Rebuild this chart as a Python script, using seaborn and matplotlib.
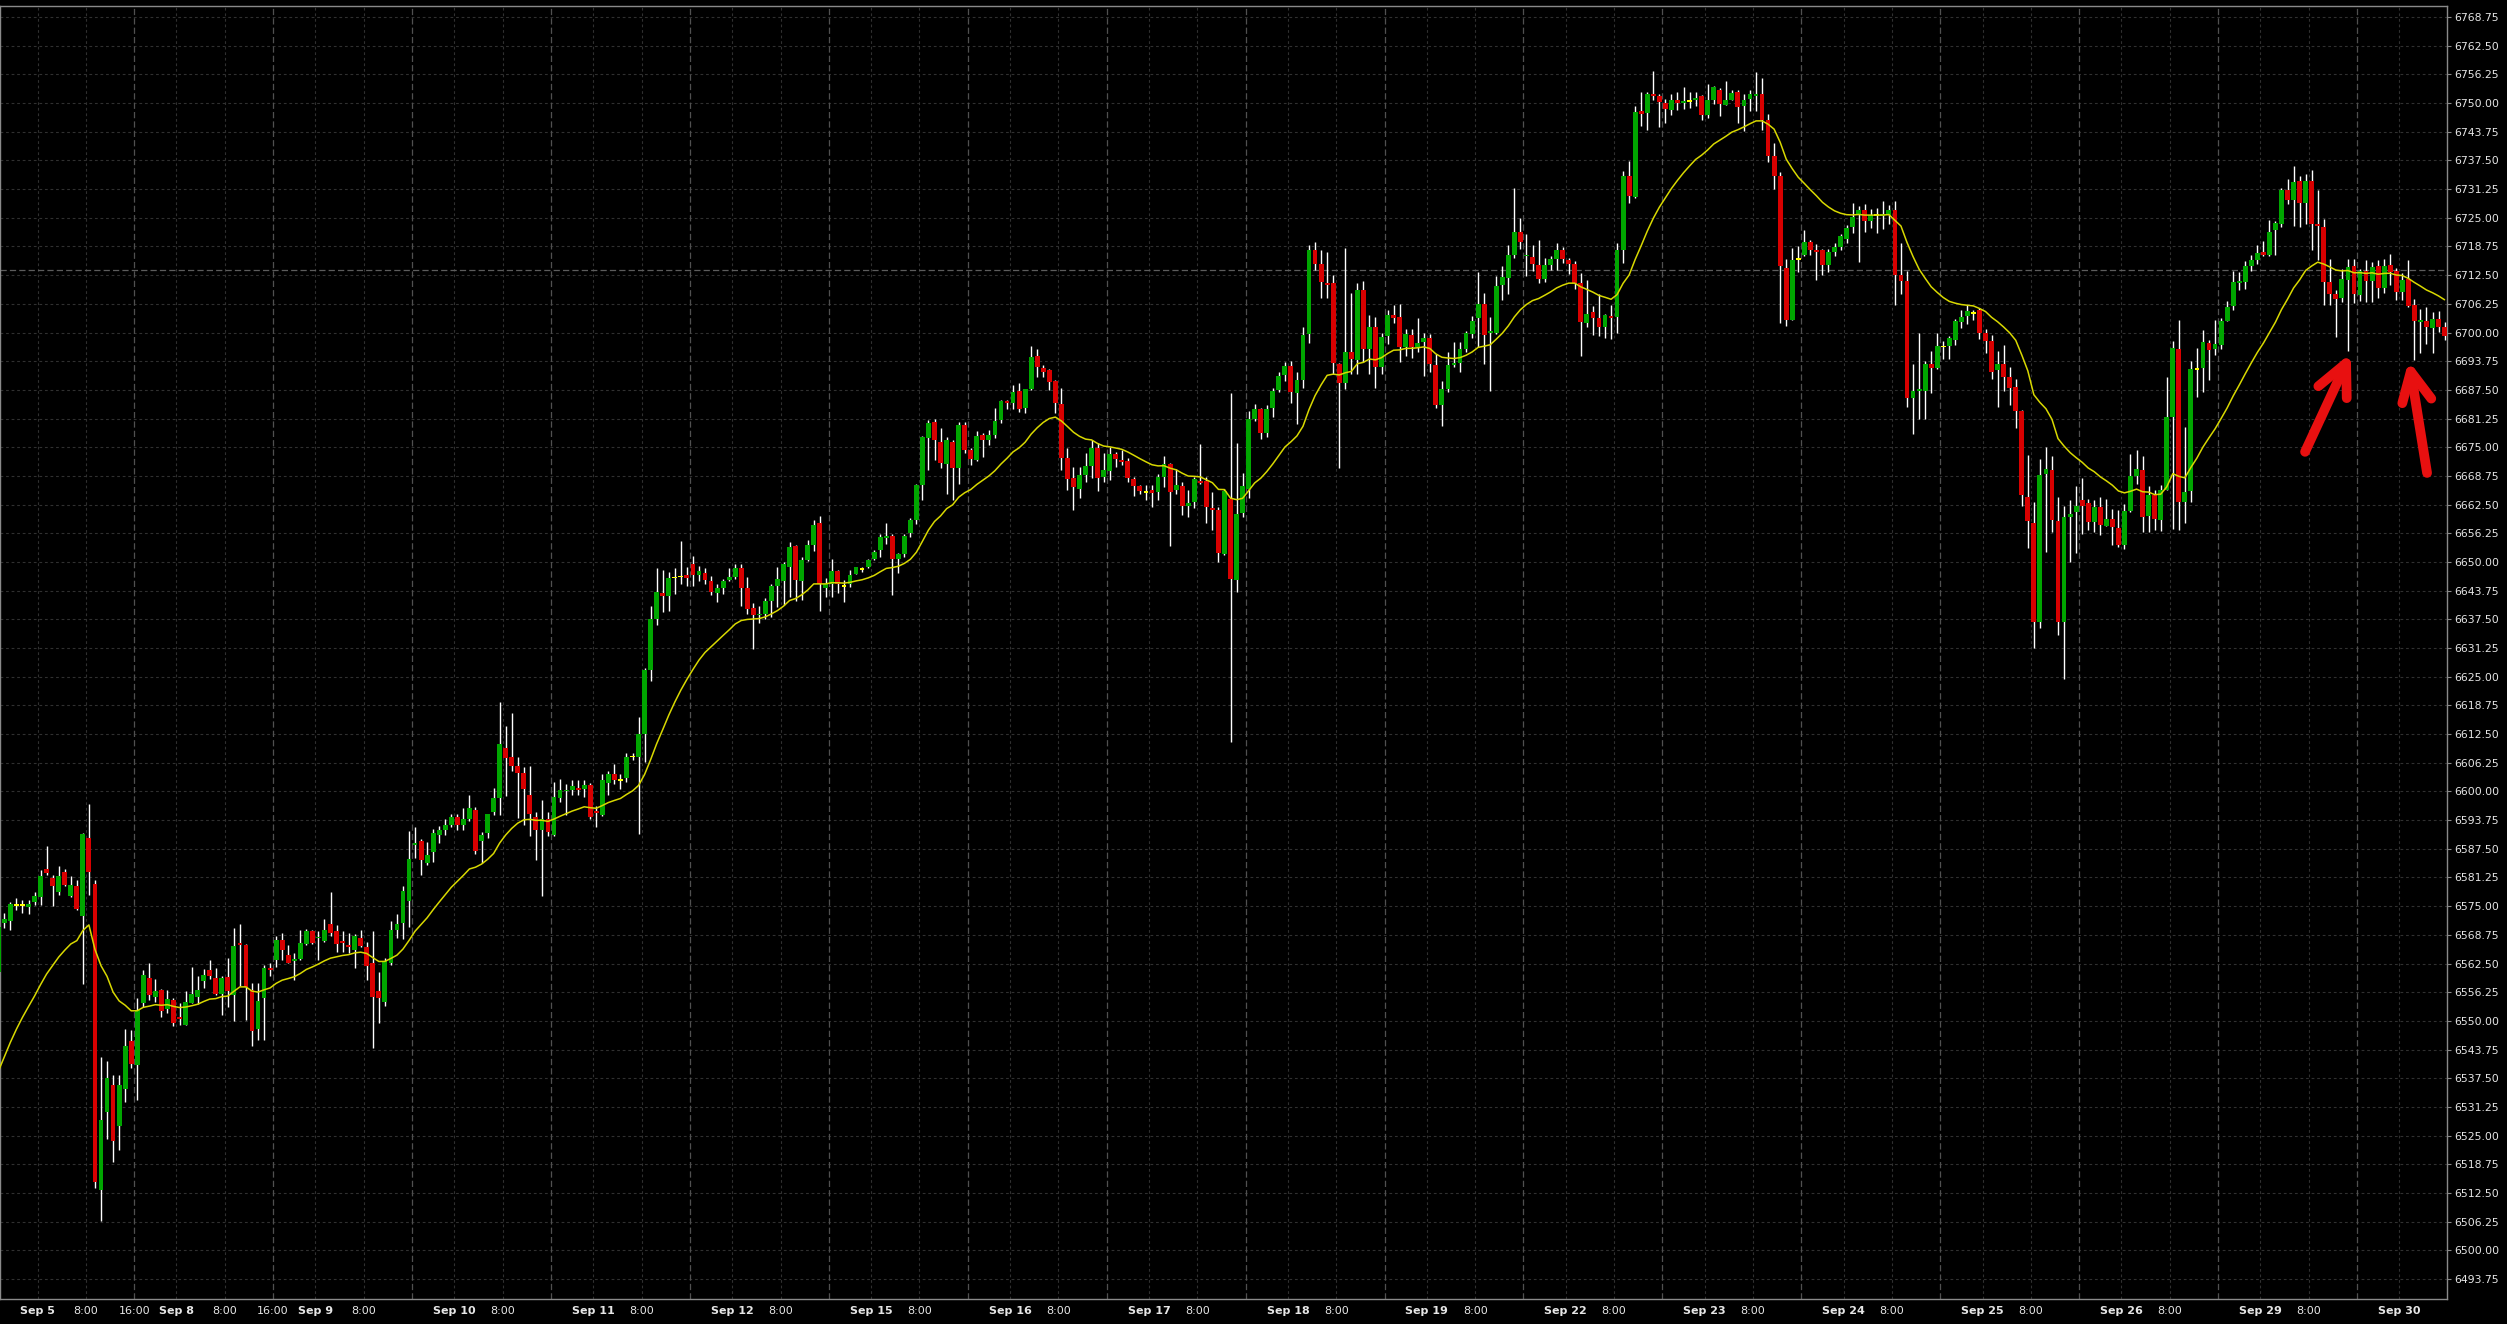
import numpy as np
import pandas as pd
import matplotlib
matplotlib.use('Agg')
import matplotlib.pyplot as plt
import seaborn as sns

# hourly bars, Sep 4 (late) .. Sep 30
open_ = [
    6560.7, 6571.4, 6571.8, 6575.3, 6575.3, 6574.9, 6575.8, 6577.1, 6583.1, 6581.2,
    6578.0, 6582.4, 6577.2, 6579.4, 6572.9, 6589.9, 6579.8, 6513.2, 6530.2, 6536.0,
    6527.2, 6535.2, 6545.6, 6540.4, 6554.0, 6559.4, 6555.3, 6556.7, 6552.5, 6554.5,
    6550.8, 6549.1, 6554.0, 6555.3, 6558.6, 6561.1, 6559.4, 6555.9, 6559.6, 6555.7,
    6567.0, 6566.5, 6556.7, 6548.2, 6554.9, 6561.5, 6563.3, 6567.6, 6564.4, 6563.0,
    6563.5, 6566.8, 6569.6, 6568.0, 6567.4, 6571.1, 6569.6, 6567.3, 6566.5, 6565.5,
    6568.1, 6566.1, 6562.6, 6556.5, 6554.1, 6562.7, 6569.8, 6571.4, 6576.2, 6588.3,
    6589.3, 6584.3, 6586.7, 6590.6, 6591.7, 6592.7, 6594.5, 6592.7, 6594.1, 6595.9,
    6589.1, 6590.9, 6595.5, 6598.6, 6609.5, 6607.5, 6605.6, 6604.1, 6599.2, 6594.5,
    6591.7, 6594.1, 6590.6, 6598.6, 6600.1, 6600.4, 6600.8, 6600.5, 6601.3, 6595.7,
    6594.9, 6601.9, 6603.8, 6602.5, 6603.0, 6607.6, 6607.6, 6612.6, 6626.5, 6637.6,
    6643.2, 6642.6, 6646.6, 6646.8, 6647.1, 6649.5, 6647.2, 6647.6, 6645.9, 6643.2,
    6644.4, 6646.0, 6646.8, 6648.7, 6644.4, 6640.0, 6638.4, 6638.6, 6641.6, 6644.8,
    6645.9, 6648.9, 6653.5, 6645.9, 6650.5, 6653.7, 6658.5, 6644.4, 6645.3, 6648.0,
    6644.8, 6645.2, 6647.3, 6648.5, 6648.8, 6650.6, 6652.6, 6655.2, 6655.6, 6650.6,
    6651.7, 6656.4, 6659.1, 6666.8, 6677.1, 6680.4, 6676.1, 6671.3, 6676.1, 6670.5,
    6679.8, 6674.4, 6672.2, 6677.6, 6676.6, 6677.7, 6680.9, 6685.1, 6684.7, 6687.2,
    6683.6, 6687.7, 6694.9, 6692.3, 6691.8, 6689.5, 6684.4, 6672.7, 6668.4, 6665.9,
    6668.9, 6671.0, 6674.9, 6668.6, 6669.8, 6673.5, 6672.2, 6672.0, 6668.1, 6666.6,
    6665.3, 6665.7, 6665.3, 6668.6, 6671.3, 6665.7, 6666.5, 6662.3, 6663.1, 6667.6,
    6667.6, 6661.7, 6661.3, 6651.7, 6663.7, 6646.0, 6660.6, 6666.0, 6681.2, 6683.4,
    6678.0, 6683.6, 6687.5, 6690.7, 6692.6, 6686.8, 6689.7, 6699.7, 6717.9, 6715.0,
    6710.7, 6710.7, 6693.2, 6689.0, 6695.8, 6694.1, 6709.2, 6696.3, 6701.3, 6692.4,
    6699.2, 6703.9, 6703.3, 6696.8, 6699.4, 6696.8, 6698.0, 6698.9, 6692.9, 6684.1,
    6687.7, 6692.9, 6693.4, 6696.3, 6699.7, 6703.1, 6706.3, 6699.9, 6700.0, 6710.4,
    6711.9, 6716.9, 6721.9, 6716.6, 6716.5, 6714.8, 6711.6, 6714.8, 6716.0, 6717.9,
    6715.9, 6715.0, 6710.7, 6702.1, 6704.4, 6703.1, 6701.3, 6703.6, 6703.3, 6717.9,
    6734.0, 6729.6, 6748.3, 6747.8, 6752.0, 6751.6, 6750.0, 6748.4, 6750.7, 6750.0,
    6750.4, 6750.7, 6751.6, 6747.4, 6750.6, 6752.9, 6749.6, 6750.7, 6752.5, 6749.3,
    6750.9, 6751.6, 6752.0, 6746.2, 6738.5, 6734.1, 6714.1, 6702.8, 6716.0, 6716.8,
    6719.8, 6717.9, 6717.9, 6714.7, 6717.5, 6718.6, 6720.4, 6722.9, 6725.8, 6726.6,
    6724.4, 6725.6, 6725.3, 6725.6, 6726.6, 6712.6, 6711.3, 6685.8, 6687.3, 6687.3,
    6693.2, 6692.3, 6697.0, 6697.1, 6698.4, 6702.4, 6703.6, 6704.3, 6704.8, 6700.0,
    6698.2, 6691.9, 6693.2, 6690.3, 6688.1, 6682.9, 6664.2, 6658.6, 6636.9, 6669.1,
    6670.0, 6658.9, 6637.0, 6659.8, 6660.9, 6663.6, 6662.9, 6658.7, 6662.0, 6657.8,
    6659.4, 6657.4, 6653.6, 6661.1, 6668.7, 6670.1, 6660.1, 6664.5, 6659.1, 6665.7,
    6681.5, 6696.3, 6663.0, 6665.5, 6692.1, 6692.2, 6697.8, 6696.3, 6697.2, 6702.6,
    6705.7, 6710.8, 6711.1, 6714.4, 6715.9, 6717.5, 6717.0, 6722.4, 6723.7, 6731.1,
    6728.8, 6733.1, 6728.2, 6733.1, 6723.7, 6723.1, 6711.0, 6708.3, 6707.5, 6711.5,
    6714.4, 6708.1, 6713.4, 6711.2, 6714.4, 6709.8, 6714.8, 6713.5, 6708.8, 6711.7,
    6705.9, 6702.3, 6702.6, 6701.0, 6703.0, 6701.3,
]
high = [
    6571.0, 6573.6, 6576.0, 6576.7, 6576.4, 6576.4, 6578.1, 6582.9, 6588.1, 6581.8,
    6583.8, 6583.0, 6581.6, 6580.7, 6591.0, 6597.3, 6580.6, 6542.2, 6541.3, 6538.2,
    6538.2, 6548.2, 6548.0, 6554.9, 6561.1, 6562.7, 6559.1, 6556.9, 6556.7, 6554.9,
    6554.0, 6556.6, 6561.7, 6559.8, 6561.2, 6563.3, 6561.5, 6559.8, 6563.8, 6570.3,
    6571.1, 6566.7, 6558.2, 6558.3, 6562.2, 6562.7, 6568.4, 6569.1, 6566.5, 6564.7,
    6569.8, 6570.0, 6569.8, 6569.5, 6572.1, 6578.1, 6570.9, 6569.6, 6569.1, 6568.9,
    6569.8, 6567.3, 6569.6, 6560.7, 6563.6, 6571.8, 6573.3, 6579.4, 6591.4, 6592.2,
    6589.6, 6588.9, 6591.9, 6592.5, 6594.0, 6595.0, 6595.1, 6596.3, 6599.2, 6596.5,
    6591.1, 6595.1, 6600.8, 6619.5, 6614.3, 6617.1, 6607.5, 6605.4, 6605.6, 6595.5,
    6598.1, 6595.5, 6602.0, 6602.8, 6601.6, 6602.4, 6602.5, 6602.4, 6601.9, 6596.8,
    6603.8, 6604.4, 6606.0, 6603.8, 6608.4, 6608.4, 6616.2, 6626.9, 6640.5, 6648.7,
    6648.3, 6647.9, 6648.7, 6654.6, 6648.8, 6651.3, 6649.1, 6648.7, 6646.9, 6645.3,
    6646.3, 6648.7, 6649.5, 6649.5, 6646.7, 6641.0, 6640.5, 6642.1, 6645.1, 6648.8,
    6650.1, 6654.3, 6653.7, 6651.1, 6654.7, 6659.1, 6660.0, 6646.4, 6650.6, 6648.3,
    6646.0, 6648.2, 6649.0, 6649.0, 6650.6, 6652.7, 6656.2, 6658.6, 6656.1, 6652.0,
    6656.1, 6659.5, 6667.1, 6677.4, 6680.9, 6681.1, 6679.1, 6677.3, 6676.6, 6680.6,
    6680.6, 6674.8, 6678.6, 6678.0, 6678.8, 6683.5, 6685.4, 6685.3, 6688.6, 6688.9,
    6687.8, 6697.1, 6696.5, 6692.9, 6692.0, 6689.6, 6688.0, 6674.8, 6670.8, 6670.8,
    6673.7, 6676.6, 6676.0, 6673.7, 6675.0, 6674.0, 6674.4, 6672.6, 6668.6, 6666.8,
    6666.8, 6666.8, 6669.2, 6673.1, 6671.5, 6670.2, 6667.5, 6665.7, 6668.6, 6675.6,
    6668.6, 6665.3, 6662.0, 6666.0, 6686.9, 6676.0, 6669.3, 6682.9, 6684.4, 6683.6,
    6684.1, 6688.0, 6691.4, 6693.6, 6693.9, 6691.4, 6701.1, 6719.1, 6719.8, 6717.9,
    6717.5, 6712.6, 6693.4, 6718.4, 6708.7, 6710.7, 6711.2, 6703.9, 6703.3, 6700.0,
    6705.0, 6706.0, 6706.2, 6700.7, 6700.7, 6703.1, 6700.0, 6699.7, 6695.3, 6689.4,
    6695.8, 6697.9, 6697.9, 6700.4, 6703.6, 6713.2, 6708.7, 6703.3, 6712.3, 6714.5,
    6719.1, 6731.5, 6724.9, 6721.5, 6719.1, 6720.1, 6716.2, 6716.7, 6719.4, 6718.6,
    6716.2, 6715.5, 6713.0, 6711.4, 6705.8, 6708.4, 6704.1, 6706.0, 6719.6, 6735.2,
    6737.4, 6749.3, 6752.5, 6752.5, 6756.9, 6752.0, 6750.9, 6752.0, 6752.5, 6753.4,
    6752.5, 6752.5, 6751.8, 6754.1, 6753.8, 6753.2, 6754.7, 6752.9, 6752.9, 6752.0,
    6752.9, 6756.7, 6755.5, 6747.7, 6741.3, 6735.0, 6716.1, 6718.5, 6718.8, 6722.3,
    6720.1, 6719.2, 6718.3, 6718.2, 6719.4, 6721.4, 6723.4, 6728.2, 6727.5, 6728.0,
    6726.9, 6727.1, 6728.7, 6727.8, 6728.7, 6719.4, 6713.5, 6693.1, 6700.0, 6693.8,
    6696.0, 6699.8, 6698.2, 6699.2, 6703.0, 6705.0, 6705.9, 6705.0, 6705.4, 6700.8,
    6699.5, 6696.0, 6697.3, 6692.5, 6689.9, 6683.1, 6673.3, 6663.0, 6672.5, 6675.0,
    6673.0, 6664.2, 6662.3, 6663.6, 6666.5, 6668.4, 6663.8, 6663.6, 6664.2, 6663.8,
    6661.6, 6661.3, 6662.6, 6673.6, 6674.3, 6673.0, 6666.5, 6665.6, 6666.7, 6690.4,
    6698.1, 6702.8, 6679.4, 6693.9, 6696.7, 6700.5, 6698.3, 6702.8, 6703.2, 6706.9,
    6713.4, 6713.2, 6715.6, 6716.8, 6719.0, 6719.9, 6724.6, 6724.3, 6731.5, 6733.5,
    6736.2, 6734.0, 6734.5, 6735.5, 6731.0, 6724.8, 6716.1, 6709.2, 6713.9, 6716.1,
    6716.1, 6713.9, 6715.7, 6715.4, 6715.7, 6716.1, 6717.2, 6714.1, 6713.0, 6715.7,
    6707.4, 6705.1, 6705.5, 6704.4, 6704.7, 6702.3,
]
low = [
    6560.0, 6570.3, 6569.8, 6574.2, 6573.6, 6573.3, 6575.3, 6575.3, 6581.8, 6575.0,
    6577.4, 6579.3, 6577.1, 6574.2, 6558.1, 6577.4, 6513.5, 6506.5, 6524.2, 6519.3,
    6521.9, 6532.4, 6539.7, 6532.8, 6553.1, 6554.6, 6554.2, 6550.8, 6551.7, 6548.9,
    6549.1, 6549.1, 6554.0, 6553.7, 6557.1, 6559.1, 6555.7, 6551.3, 6553.1, 6549.9,
    6557.5, 6550.2, 6544.6, 6545.8, 6545.8, 6559.7, 6561.8, 6563.3, 6562.6, 6558.9,
    6563.3, 6566.5, 6566.8, 6563.3, 6567.3, 6568.4, 6565.1, 6565.1, 6564.7, 6561.6,
    6566.2, 6558.9, 6544.0, 6549.6, 6553.3, 6562.2, 6568.0, 6567.8, 6570.4, 6585.6,
    6581.7, 6583.9, 6584.7, 6588.7, 6590.6, 6592.3, 6591.7, 6591.5, 6593.5, 6586.3,
    6584.4, 6589.9, 6594.8, 6594.8, 6599.0, 6604.4, 6594.3, 6592.7, 6590.3, 6585.1,
    6577.2, 6590.3, 6590.3, 6597.6, 6594.8, 6599.2, 6599.2, 6598.8, 6593.9, 6592.3,
    6594.7, 6599.2, 6601.6, 6600.6, 6602.1, 6606.8, 6590.7, 6606.4, 6624.1, 6636.2,
    6639.2, 6639.4, 6643.0, 6645.1, 6644.8, 6644.8, 6645.9, 6645.3, 6642.8, 6641.3,
    6643.0, 6645.9, 6646.3, 6640.4, 6638.6, 6631.1, 6636.8, 6637.6, 6638.1, 6640.2,
    6640.6, 6642.4, 6641.6, 6641.8, 6650.3, 6652.3, 6639.4, 6642.4, 6642.4, 6643.2,
    6641.3, 6644.6, 6647.3, 6647.9, 6648.6, 6650.4, 6651.1, 6654.0, 6642.8, 6647.7,
    6651.1, 6655.5, 6658.3, 6663.6, 6670.0, 6672.2, 6670.4, 6664.8, 6663.4, 6667.1,
    6673.7, 6671.1, 6671.9, 6672.9, 6675.5, 6677.0, 6680.2, 6683.3, 6683.3, 6682.7,
    6682.5, 6687.5, 6690.4, 6690.4, 6687.5, 6682.4, 6670.0, 6665.7, 6661.3, 6663.9,
    6667.5, 6668.2, 6665.5, 6667.5, 6667.9, 6670.8, 6671.1, 6667.5, 6664.4, 6664.9,
    6663.5, 6662.0, 6663.4, 6666.3, 6653.5, 6664.8, 6660.2, 6659.7, 6661.7, 6667.1,
    6658.5, 6657.0, 6649.9, 6651.5, 6610.8, 6643.4, 6659.8, 6664.0, 6680.7, 6676.8,
    6677.3, 6681.7, 6687.1, 6689.5, 6684.6, 6680.0, 6688.0, 6697.7, 6713.6, 6707.5,
    6707.5, 6690.9, 6670.5, 6687.7, 6690.9, 6690.9, 6693.6, 6690.9, 6688.0, 6690.9,
    6697.5, 6702.1, 6693.6, 6694.8, 6694.4, 6695.8, 6690.5, 6691.4, 6683.6, 6679.6,
    6687.0, 6692.4, 6691.4, 6695.8, 6698.7, 6696.8, 6693.2, 6687.3, 6699.7, 6707.0,
    6708.4, 6716.2, 6718.2, 6712.3, 6713.3, 6710.7, 6710.9, 6713.6, 6713.6, 6715.2,
    6712.8, 6709.4, 6694.8, 6701.1, 6699.4, 6699.2, 6698.7, 6698.5, 6700.0, 6715.2,
    6728.3, 6729.3, 6745.1, 6744.2, 6750.7, 6744.8, 6745.7, 6747.4, 6748.4, 6748.8,
    6749.0, 6749.4, 6746.2, 6746.8, 6749.9, 6747.1, 6749.6, 6750.6, 6745.7, 6743.9,
    6748.3, 6748.3, 6744.2, 6737.2, 6731.3, 6702.1, 6701.4, 6702.8, 6713.1, 6716.6,
    6717.0, 6711.5, 6712.6, 6713.1, 6716.6, 6717.9, 6719.4, 6721.7, 6715.3, 6722.0,
    6722.7, 6721.7, 6722.5, 6723.6, 6705.9, 6708.5, 6683.7, 6677.9, 6681.1, 6681.1,
    6686.8, 6692.0, 6694.3, 6694.3, 6697.3, 6701.0, 6701.9, 6702.7, 6698.6, 6695.6,
    6689.9, 6683.8, 6687.3, 6684.2, 6679.1, 6662.3, 6653.1, 6631.2, 6635.6, 6652.2,
    6656.5, 6634.0, 6624.5, 6650.0, 6652.0, 6656.2, 6656.9, 6656.5, 6655.8, 6657.8,
    6653.8, 6653.3, 6652.9, 6660.9, 6667.1, 6656.5, 6656.5, 6656.9, 6656.7, 6665.7,
    6657.1, 6656.9, 6658.5, 6663.1, 6685.9, 6687.0, 6689.6, 6695.2, 6696.3, 6702.5,
    6704.8, 6709.3, 6709.5, 6713.4, 6715.0, 6716.6, 6716.6, 6716.8, 6723.0, 6728.1,
    6723.3, 6723.1, 6723.7, 6717.9, 6715.7, 6705.9, 6705.9, 6699.0, 6706.6, 6695.9,
    6706.4, 6706.9, 6706.6, 6706.6, 6707.6, 6708.6, 6710.3, 6707.1, 6707.0, 6705.6,
    6694.1, 6695.5, 6697.6, 6695.5, 6700.1, 6698.3,
]
close = [
    6570.5, 6572.1, 6575.5, 6575.3, 6575.3, 6575.5, 6577.2, 6581.6, 6582.2, 6579.4,
    6581.6, 6579.6, 6579.6, 6574.4, 6590.7, 6582.5, 6514.8, 6528.4, 6537.6, 6523.8,
    6536.0, 6544.5, 6540.6, 6552.4, 6560.0, 6555.7, 6556.5, 6552.2, 6554.8, 6549.6,
    6550.5, 6554.1, 6555.9, 6556.7, 6560.0, 6559.7, 6555.9, 6559.4, 6556.5, 6566.3,
    6566.6, 6557.4, 6547.7, 6554.3, 6561.5, 6561.1, 6567.6, 6565.5, 6562.6, 6563.4,
    6567.0, 6569.6, 6567.0, 6568.3, 6569.8, 6569.2, 6566.8, 6567.0, 6566.1, 6568.5,
    6566.4, 6562.0, 6555.2, 6555.0, 6563.1, 6569.8, 6571.1, 6578.3, 6585.3, 6588.8,
    6585.1, 6586.2, 6591.0, 6591.7, 6592.7, 6594.5, 6592.7, 6594.1, 6596.3, 6587.1,
    6590.6, 6595.0, 6598.6, 6610.4, 6607.2, 6605.6, 6604.0, 6600.6, 6595.0, 6591.5,
    6594.0, 6591.1, 6598.8, 6600.4, 6600.4, 6601.2, 6600.4, 6601.3, 6594.5, 6595.2,
    6602.6, 6603.8, 6602.4, 6602.5, 6607.6, 6607.6, 6612.6, 6626.5, 6637.6, 6643.4,
    6642.6, 6646.5, 6646.6, 6646.8, 6646.6, 6647.1, 6648.0, 6646.1, 6643.4, 6644.3,
    6645.9, 6646.7, 6648.7, 6644.4, 6639.7, 6638.4, 6638.7, 6641.6, 6644.8, 6646.3,
    6649.5, 6653.3, 6646.1, 6650.5, 6653.7, 6658.0, 6645.3, 6645.2, 6648.0, 6645.2,
    6644.8, 6647.1, 6648.8, 6648.5, 6650.4, 6652.2, 6655.4, 6655.6, 6650.6, 6651.7,
    6655.6, 6659.1, 6666.8, 6677.2, 6680.2, 6676.6, 6671.5, 6676.6, 6670.5, 6679.8,
    6674.4, 6672.4, 6677.4, 6676.6, 6677.6, 6680.8, 6685.1, 6684.6, 6687.1, 6683.3,
    6687.7, 6694.7, 6692.4, 6691.4, 6689.3, 6684.6, 6672.7, 6668.1, 6666.4, 6668.9,
    6671.0, 6674.9, 6668.4, 6670.0, 6673.5, 6672.4, 6671.8, 6668.4, 6666.5, 6665.5,
    6665.3, 6665.1, 6668.6, 6671.3, 6665.3, 6666.8, 6662.3, 6662.8, 6668.1, 6667.3,
    6661.9, 6661.3, 6652.0, 6665.4, 6646.2, 6660.4, 6666.6, 6681.2, 6683.4, 6678.0,
    6683.4, 6687.3, 6690.5, 6692.6, 6687.1, 6689.7, 6699.5, 6717.9, 6715.0, 6710.9,
    6710.4, 6693.4, 6689.0, 6695.8, 6694.3, 6709.2, 6696.3, 6701.1, 6692.4, 6699.0,
    6703.9, 6703.1, 6696.8, 6699.7, 6696.8, 6697.7, 6698.7, 6693.2, 6684.1, 6687.7,
    6692.9, 6693.4, 6696.3, 6699.9, 6702.6, 6706.3, 6699.5, 6700.3, 6710.1, 6712.1,
    6716.9, 6721.9, 6719.8, 6716.9, 6715.0, 6711.6, 6714.8, 6716.0, 6717.9, 6716.0,
    6715.0, 6710.7, 6702.3, 6704.1, 6703.1, 6701.3, 6703.9, 6703.1, 6717.9, 6734.2,
    6729.8, 6748.1, 6747.6, 6752.0, 6751.6, 6750.2, 6748.7, 6750.7, 6750.0, 6750.5,
    6750.4, 6751.2, 6747.5, 6750.6, 6753.4, 6749.9, 6750.6, 6752.3, 6749.2, 6750.7,
    6752.0, 6752.0, 6746.2, 6738.5, 6734.1, 6714.4, 6702.8, 6715.9, 6716.0, 6719.8,
    6717.9, 6717.5, 6714.8, 6717.6, 6718.6, 6721.0, 6722.7, 6725.1, 6726.6, 6724.4,
    6725.5, 6725.6, 6725.8, 6726.6, 6712.6, 6711.3, 6685.7, 6687.3, 6687.7, 6693.1,
    6692.3, 6697.1, 6697.0, 6698.8, 6702.6, 6703.3, 6704.6, 6704.3, 6700.0, 6698.2,
    6691.4, 6693.1, 6690.3, 6687.9, 6682.9, 6664.7, 6658.9, 6636.9, 6668.9, 6670.3,
    6659.1, 6637.0, 6659.8, 6660.4, 6662.2, 6662.1, 6658.7, 6662.0, 6658.0, 6659.4,
    6657.6, 6653.6, 6661.1, 6668.7, 6670.3, 6659.9, 6664.5, 6659.4, 6665.7, 6681.5,
    6696.6, 6663.1, 6665.3, 6692.1, 6692.1, 6697.9, 6696.2, 6697.4, 6702.6, 6705.5,
    6711.0, 6711.1, 6714.4, 6715.9, 6717.3, 6716.9, 6721.9, 6723.9, 6731.0, 6728.8,
    6732.9, 6728.2, 6733.1, 6723.7, 6723.2, 6711.0, 6708.3, 6707.2, 6711.7, 6714.3,
    6708.3, 6713.4, 6711.2, 6714.3, 6709.8, 6714.6, 6713.2, 6708.8, 6711.5, 6705.7,
    6702.6, 6702.6, 6701.2, 6703.0, 6701.3, 6699.2,
]
ma_seed = 6535.7          # moving average value just before the first visible bar
price_line = 6713.6       # grey dashed price marker

day_labels = ['Sep 5', 'Sep 8', 'Sep 9', 'Sep 10', 'Sep 11', 'Sep 12', 'Sep 15',
              'Sep 16', 'Sep 17', 'Sep 18', 'Sep 19', 'Sep 22', 'Sep 23', 'Sep 24',
              'Sep 25', 'Sep 26', 'Sep 29', 'Sep 30']
y_ticks = np.arange(6493.75, 6768.76, 6.25)

sns.set_theme(style='dark', rc={'axes.facecolor': 'black', 'figure.facecolor': 'black',
                                'axes.grid': False})
plt.rcParams['font.family'] = ['DejaVu Sans']

df = pd.DataFrame({'open': open_, 'high': high, 'low': low, 'close': close})
df['bar'] = np.arange(len(df))
df['ma'] = pd.Series([ma_seed] + close).ewm(span=20, adjust=False).mean().iloc[1:].values

GREEN, RED, DOJI = '#00a600', '#d80000', '#ffff00'
col = np.where(df.close > df.open, GREEN, np.where(df.close < df.open, RED, DOJI))
body_lo = np.minimum(df.open, df.close)
body_h = np.abs(df.close - df.open)
body_lo = np.where(body_h < 0.35, (df.open + df.close) / 2 - 0.18, body_lo)
body_h = np.maximum(body_h, 0.35)

fig = plt.figure(figsize=(25.07, 13.24), dpi=100)
ax = fig.add_axes([0, 25 / 1324, 2447 / 2507, 1293 / 1324])
ax.set_facecolor('black')

# grid
for y in y_ticks:
    ax.axhline(y, color='#303030', lw=0.8, ls=(0, (2.5, 2.5)), zorder=0)
tick_pos, tick_lab = [], []
for d, name in enumerate(day_labels):
    p = 6.5 + 23 * d
    for h, style in [(0, 'short'), (8, 'short'), (16, 'long')]:
        gx = p + h
        if gx > 405.4:
            continue
        if style == 'long':
            ax.axvline(gx, color='#505050', lw=0.9, ls=(0, (5, 2.5)), zorder=0)
        else:
            ax.axvline(gx, color='#303030', lw=0.8, ls=(0, (2.5, 2.5)), zorder=0)
    tick_pos.append(p)
    tick_lab.append(name)
    if p + 8 < 405.4:
        tick_pos.append(p + 8)
        tick_lab.append('8:00')
    if d < 2:
        tick_pos.append(p + 16)
        tick_lab.append('16:00')

ax.axhline(price_line, color='#5c5c5c', lw=0.9, ls=(0, (5, 2.5)), zorder=1)

# candles
ax.vlines(df.bar, df.low, df.high, colors='white', lw=1.0, zorder=2)
ax.bar(df.bar, body_h, bottom=body_lo, width=0.8, color=col, linewidth=0, zorder=3)

# moving average
sns.lineplot(x=df.bar, y=df.ma, ax=ax, color='#d8d800', lw=1.1, zorder=4)

# red arrows
arrows = [
    ([381.9, 388.7], [6674.0, 6693.3], [384.1, 388.7, 388.8], [6688.3, 6693.3, 6685.7]),
    ([402.1, 399.4], [6669.4, 6691.5], [398.0, 399.4, 402.8], [6684.6, 6691.5, 6685.6]),
]
for sx, sy, hx, hy in arrows:
    ax.plot(sx, sy, color='#e81010', lw=7, solid_capstyle='round', zorder=6)
    ax.plot(hx, hy, color='#e81010', lw=7, solid_capstyle='round',
            solid_joinstyle='round', zorder=6)

ax.set_xlim(0.28, 405.4)
ax.set_ylim(6489.4, 6771.15)
ax.set_xlabel('')
ax.set_ylabel('')

ax.set_yticks(y_ticks)
ax.set_yticklabels([f'{v:.2f}' for v in y_ticks])
ax.yaxis.tick_right()
ax.tick_params(axis='y', length=3, width=0.8, color='#8a8a8a', pad=2,
               labelcolor='#e6e6e6', labelsize=7.8)
ax.set_xticks(tick_pos)
ax.set_xticklabels(tick_lab)
ax.tick_params(axis='x', length=0, pad=5, labelcolor='#e6e6e6', labelsize=8)
for t in ax.get_xticklabels():
    if t.get_text().startswith('Sep'):
        t.set_fontweight('bold')

for s in ax.spines.values():
    s.set_color('#8a8a8a')
    s.set_linewidth(1)

fig.savefig('out.png', dpi=100, facecolor='black')
